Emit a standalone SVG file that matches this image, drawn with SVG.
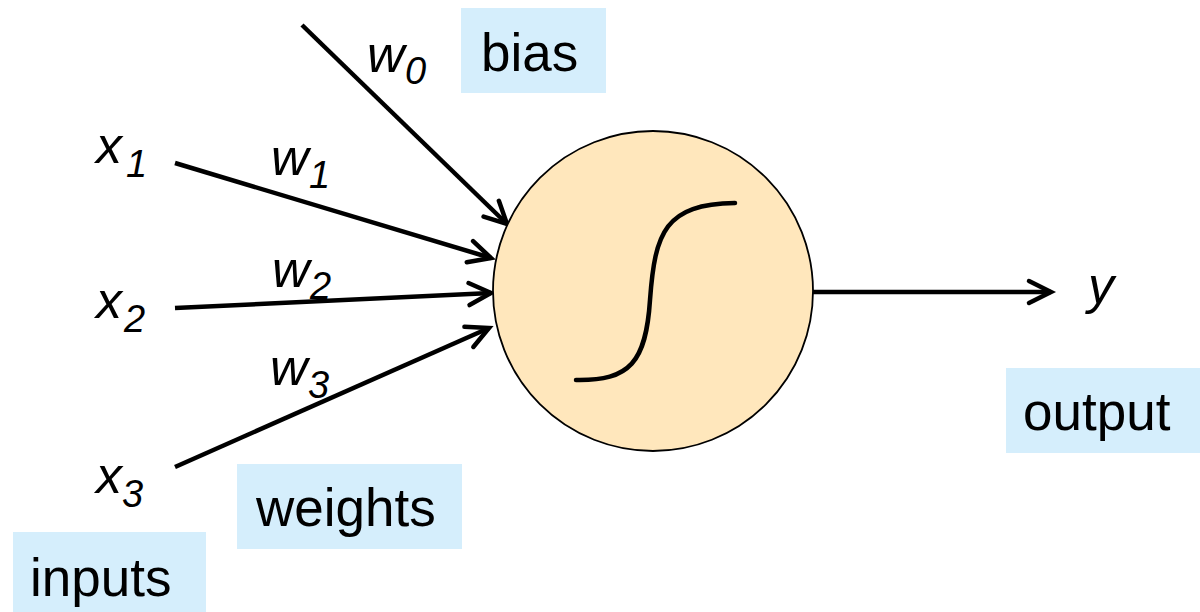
<svg xmlns="http://www.w3.org/2000/svg" width="1200" height="612" viewBox="0 0 1200 612">
  <defs>
    <style>
      .lbl-box { fill: #d5eefc; }
      .lbl { font-family: "Liberation Sans", Arial, sans-serif; font-size: 53px; fill: #000; }
      .var { font-family: "Liberation Sans", Arial, sans-serif; font-size: 52px; font-style: italic; fill: #000; }
      .sub { font-size: 38px; }
      .edge { stroke: #000; stroke-width: 4.5; fill: none; marker-end: url(#chev); }
    </style>
    <marker id="chev" markerUnits="userSpaceOnUse" viewBox="-28 -16 32 32" markerWidth="32" markerHeight="32" refX="0" refY="0" orient="auto" overflow="visible">
      <path d="M-22,-11 L0,0 L-22,11" fill="none" stroke="#000" stroke-width="4.5" stroke-linecap="round" stroke-linejoin="miter"/>
    </marker>
  </defs>
  <rect width="1200" height="612" fill="#fff"/>

  <g id="connectors">
    <line class="edge" x1="302" y1="25" x2="507" y2="224"/>
    <line class="edge" x1="175" y1="163" x2="491" y2="258"/>
    <line class="edge" x1="175" y1="308" x2="491" y2="293"/>
    <line class="edge" x1="175" y1="467" x2="489" y2="328"/>
    <line class="edge" x1="813" y1="292" x2="1051" y2="292"/>
  </g>

  <g id="neuron">
    <circle cx="653" cy="291" r="160" fill="#ffe7bc" stroke="#000" stroke-width="1.8"/>
    <path d="M576,380 C630,381 646,362 650,300 C655,232 665,204 735,203" fill="none" stroke="#000" stroke-width="4.5" stroke-linecap="round"/>
  </g>

  <g id="x1"><text class="var" x="96" y="163">x<tspan class="sub" x="126" y="177">1</tspan></text></g>
  <g id="x2"><text class="var" x="96" y="318">x<tspan class="sub" x="124" y="332">2</tspan></text></g>
  <g id="x3"><text class="var" x="96" y="493">x<tspan class="sub" x="122" y="507">3</tspan></text></g>
  <g id="w0"><text class="var" x="367" y="72">w<tspan class="sub" x="405" y="84">0</tspan></text></g>
  <g id="w1"><text class="var" x="271" y="175">w<tspan class="sub" x="309" y="188">1</tspan></text></g>
  <g id="w2"><text class="var" x="272" y="287">w<tspan class="sub" x="310" y="299">2</tspan></text></g>
  <g id="w3"><text class="var" x="270" y="385">w<tspan class="sub" x="308" y="398">3</tspan></text></g>
  <g id="y"><text class="var" x="1088" y="303">y</text></g>

  <g id="bias"><rect class="lbl-box" x="461" y="8" width="145" height="85"/><text class="lbl" x="481" y="71">bias</text></g>
  <g id="weights"><rect class="lbl-box" x="237" y="464" width="225" height="85"/><text class="lbl" x="256" y="526">weights</text></g>
  <g id="inputs"><rect class="lbl-box" x="13" y="532" width="193" height="80"/><text class="lbl" x="30" y="596">inputs</text></g>
  <g id="output"><rect class="lbl-box" x="1006" y="368" width="194" height="85"/><text class="lbl" x="1023" y="430">output</text></g>
</svg>
